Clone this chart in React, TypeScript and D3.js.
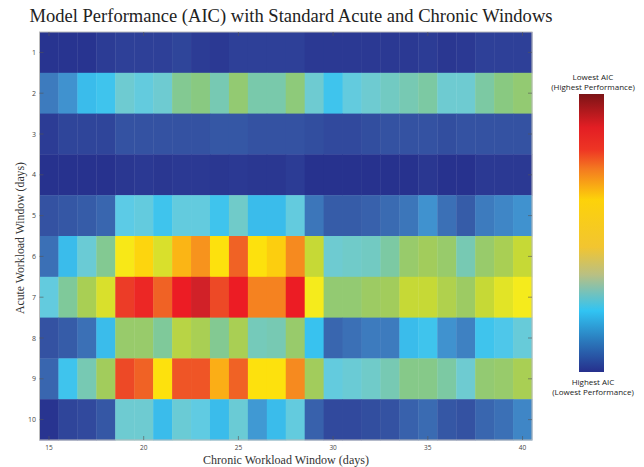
import React from "react";
import * as d3 from "d3";

const acuteWindows = [1, 2, 3, 4, 5, 6, 7, 8, 9, 10];
const chronicWindows = d3.range(15, 41);
const xTickValues = [15, 20, 25, 30, 35, 40];

// Relative performance score (0 = highest AIC, 1 = lowest AIC), one row per acute window
const row1 = [0.02, 0.02, 0.02, 0.05, 0.06, 0.06, 0.06, 0.07, 0.05, 0.04, 0.06, 0.06, 0.06, 0.06, 0.04, 0.04, 0.04, 0.04, 0.04, 0.04, 0.05, 0.03, 0.04, 0.06, 0.06, 0.06];
const row2 = [0.18, 0.22, 0.29, 0.31, 0.4, 0.37, 0.4, 0.48, 0.5, 0.44, 0.52, 0.45, 0.45, 0.51, 0.4, 0.31, 0.37, 0.4, 0.42, 0.44, 0.46, 0.4, 0.4, 0.46, 0.5, 0.52];
const row3 = [0.05, 0.07, 0.07, 0.07, 0.1, 0.1, 0.1, 0.1, 0.1, 0.11, 0.11, 0.1, 0.1, 0.1, 0.09, 0.08, 0.08, 0.09, 0.1, 0.1, 0.1, 0.09, 0.1, 0.1, 0.1, 0.1];
const row4 = [0.01, 0.01, 0.01, 0.01, 0.03, 0.04, 0.03, 0.04, 0.04, 0.03, 0.04, 0.03, 0.03, 0.05, 0.01, 0.01, 0.01, 0.01, 0.01, 0.01, 0.03, 0.01, 0.01, 0.04, 0.04, 0.04];
const row5 = [0.1, 0.11, 0.12, 0.14, 0.35, 0.37, 0.31, 0.37, 0.37, 0.31, 0.41, 0.29, 0.29, 0.37, 0.17, 0.12, 0.12, 0.13, 0.15, 0.17, 0.22, 0.16, 0.12, 0.18, 0.2, 0.22];
const row6 = [0.16, 0.29, 0.39, 0.48, 0.66, 0.7, 0.62, 0.75, 0.79, 0.68, 0.85, 0.68, 0.71, 0.8, 0.6, 0.4, 0.41, 0.42, 0.46, 0.53, 0.55, 0.53, 0.44, 0.53, 0.56, 0.6];
const row7 = [0.37, 0.47, 0.56, 0.62, 0.88, 0.9, 0.85, 0.91, 0.95, 0.87, 0.91, 0.81, 0.81, 0.91, 0.65, 0.52, 0.52, 0.54, 0.55, 0.6, 0.6, 0.57, 0.54, 0.6, 0.63, 0.65];
const row8 = [0.1, 0.12, 0.16, 0.29, 0.53, 0.53, 0.47, 0.58, 0.56, 0.48, 0.56, 0.43, 0.44, 0.53, 0.3, 0.14, 0.16, 0.18, 0.18, 0.29, 0.31, 0.22, 0.19, 0.31, 0.33, 0.38];
const row9 = [0.14, 0.31, 0.44, 0.55, 0.87, 0.85, 0.68, 0.86, 0.86, 0.76, 0.85, 0.68, 0.68, 0.8, 0.55, 0.37, 0.39, 0.41, 0.44, 0.49, 0.49, 0.46, 0.4, 0.52, 0.53, 0.56];
const row10 = [0.02, 0.07, 0.08, 0.11, 0.4, 0.4, 0.29, 0.39, 0.36, 0.29, 0.39, 0.23, 0.29, 0.37, 0.13, 0.08, 0.08, 0.09, 0.1, 0.13, 0.15, 0.11, 0.1, 0.14, 0.16, 0.2];
const scoreRows = [row1, row2, row3, row4, row5, row6, row7, row8, row9, row10];

const colorStops = [0, 0.05, 0.1, 0.15, 0.2, 0.25, 0.3, 0.35, 0.4, 0.45, 0.5, 0.55, 0.6, 0.65, 0.68, 0.72, 0.76, 0.8, 0.85, 0.88, 0.91, 0.95, 1];
const colorRange = ["#262f8c", "#2c3c95", "#3452a2", "#3a6bb2", "#3f86c6", "#41a5dc", "#38c2ef", "#5ccbe6", "#6ecbd1", "#79c9ab", "#89c981", "#a2cc5c", "#c6d936", "#f5eb1c", "#fde10d", "#fcc810", "#fbae16", "#f68a1f", "#f06225", "#ec3c27", "#ec1c24", "#d12128", "#8b1a1a"];

const legendOffsets = [0, 0.12, 0.2, 0.27, 0.38, 0.55, 0.65, 0.78, 0.88, 1];
const legendColors = ["#7c1416", "#e31e24", "#ee3524", "#f47a20", "#fdd20a", "#f2c530", "#b9c083", "#31c4f3", "#2b7fc0", "#262f8c"];

export default function App() {
  const W = 644, H = 467;
  const left = 39.5, right = 532, top = 32, bottom = 440;
  const x = d3.scaleBand<number>().domain(chronicWindows).range([left, right]);
  const y = d3.scaleBand<number>().domain(acuteWindows).range([top, bottom]);
  const color = d3.scaleLinear<string>().domain(colorStops).range(colorRange).interpolate(d3.interpolateRgb).clamp(true);
  const serif = "'Liberation Serif', 'DejaVu Serif', serif";
  const sans = "'Open Sans', 'Noto Sans', sans-serif";
  const tickLen = 4;
  const cells: any[] = [];
  scoreRows.forEach((row, ri) => {
    row.forEach((v, ci) => {
      cells.push(
        <rect key={`${ri}-${ci}`} x={x(chronicWindows[ci])} y={y(acuteWindows[ri])} width={x.bandwidth() + 0.4} height={y.bandwidth() + 0.4} fill={color(v)} />
      );
    });
  });
  const lbTop = 94, lbBottom = 372, lbX = 579, lbW = 25;
  return (
    <svg width={W} height={H} style={{ position: "absolute", left: 0, top: 0 }}>
      <rect width={W} height={H} fill="#fff" />
      <defs>
        <linearGradient id="cb" x1="0" y1="0" x2="0" y2="1">
          {legendOffsets.map((o, i) => (
            <stop key={i} offset={o} stopColor={legendColors[i]} />
          ))}
        </linearGradient>
      </defs>
      <text x={291} y={22} textAnchor="middle" fontFamily={serif} fontSize={18} fill="#222" textLength={523} lengthAdjust="spacingAndGlyphs">
        Model Performance (AIC) with Standard Acute and Chronic Windows
      </text>
      <g>{cells}</g>
      <rect x={left} y={top} width={right - left} height={bottom - top} fill="none" stroke="#bbb" strokeWidth={1} />
      {xTickValues.map((t) => {
        const cx = (x(t) as number) + x.bandwidth() / 2;
        return (
          <g key={t}>
            <line x1={cx} x2={cx} y1={bottom} y2={bottom - tickLen} stroke="#555" strokeWidth={0.6} />
            <line x1={cx} x2={cx} y1={top} y2={top + tickLen} stroke="#555" strokeWidth={0.6} />
            <text x={cx} y={449.5} textAnchor="middle" fontFamily={sans} fontSize={6.5} fill="#444">{t}</text>
          </g>
        );
      })}
      {acuteWindows.map((t) => {
        const cy = (y(t) as number) + y.bandwidth() / 2;
        return (
          <g key={t}>
            <line x1={left} x2={left + tickLen} y1={cy} y2={cy} stroke="#555" strokeWidth={0.6} />
            <line x1={right} x2={right - tickLen} y1={cy} y2={cy} stroke="#555" strokeWidth={0.6} />
            <text x={36} y={cy + 2.5} textAnchor="end" fontFamily={sans} fontSize={7} fill="#444">{t}</text>
          </g>
        );
      })}
      <text x={286} y={464} textAnchor="middle" fontFamily={serif} fontSize={12.5} fill="#333" textLength={166} lengthAdjust="spacingAndGlyphs">
        Chronic Workload Window (days)
      </text>
      <text transform={`translate(24,238) rotate(-90)`} textAnchor="middle" fontFamily={serif} fontSize={13} fill="#333" textLength={152} lengthAdjust="spacingAndGlyphs">
        Acute Workload Window (days)
      </text>
      <rect x={lbX} y={lbTop} width={lbW} height={lbBottom - lbTop} fill="url(#cb)" />
      <text x={593} y={80} textAnchor="middle" fontFamily={sans} fontSize={8} fill="#222">Lowest AIC</text>
      <text x={593} y={90} textAnchor="middle" fontFamily={sans} fontSize={8} fill="#222">(Highest Performance)</text>
      <text x={593} y={385} textAnchor="middle" fontFamily={sans} fontSize={8} fill="#222">Highest AIC</text>
      <text x={593} y={395} textAnchor="middle" fontFamily={sans} fontSize={8} fill="#222">(Lowest Performance)</text>
    </svg>
  );
}
